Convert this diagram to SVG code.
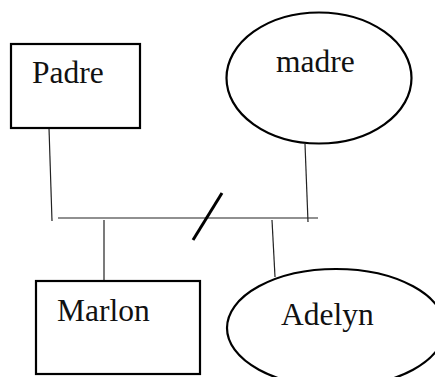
<svg xmlns="http://www.w3.org/2000/svg" width="435" height="377" viewBox="0 0 435 377">
  <style>
    .shape { fill: #ffffff; stroke: #000000; stroke-width: 2.2; }
    .label { font-family: "Liberation Serif", "Times New Roman", serif; font-size: 31.5px; fill: #111111; }
    .link { stroke: #222222; stroke-width: 1.2; fill: none; }
    .cut { stroke: #000000; stroke-width: 3; fill: none; }
  </style>
  <rect width="435" height="377" fill="#ffffff"/>

  <g id="connectors">
    <line class="link" x1="49" y1="128" x2="52" y2="221"/>
    <line class="link" x1="305" y1="144" x2="308" y2="222"/>
    <line class="link" x1="58" y1="218" x2="318" y2="218"/>
    <line class="link" x1="104" y1="220" x2="104" y2="285"/>
    <line class="link" x1="272" y1="220" x2="275" y2="277"/>
    <line class="cut" x1="222" y1="193" x2="193" y2="240"/>
  </g>

  <g id="padre">
    <rect class="shape" x="11" y="44" width="129" height="84"/>
    <text class="label" x="32" y="83">Padre</text>
  </g>

  <g id="madre">
    <ellipse class="shape" cx="319" cy="78" rx="92.5" ry="65.5"/>
    <text class="label" x="276" y="72">madre</text>
  </g>

  <g id="marlon">
    <rect class="shape" x="36" y="281" width="164" height="93"/>
    <text class="label" x="57" y="321">Marlon</text>
  </g>

  <g id="adelyn">
    <ellipse class="shape" cx="336" cy="328" rx="109" ry="59"/>
    <text class="label" x="281" y="325">Adelyn</text>
  </g>
</svg>
